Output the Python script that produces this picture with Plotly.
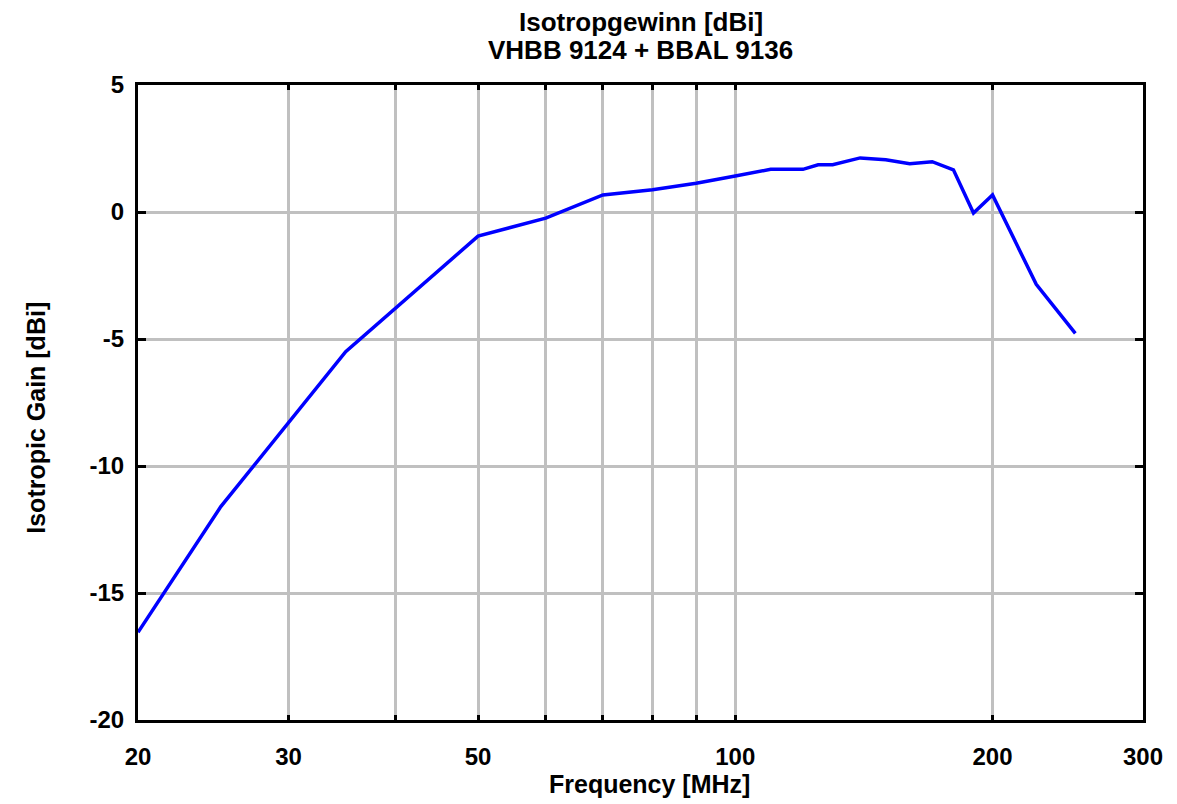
import plotly.graph_objects as go
import numpy as np

freq_mhz = [20, 25, 35, 50, 60, 70, 80, 90, 100, 110, 120, 125, 130, 140, 150,
            160, 170, 180, 190, 200, 225, 250]
gain_dbi = [-16.55, -11.6, -5.5, -0.95, -0.24, 0.67, 0.88, 1.13, 1.42, 1.68, 1.68,
            1.86, 1.86, 2.13, 2.06, 1.9, 1.98, 1.66, -0.04, 0.67, -2.85, -4.78]

x_tick_vals = [20, 30, 50, 100, 200, 300]
x_tick_text = ["20", "30", "50", "100", "200", "300"]
x_minor_vals = [40, 60, 70, 80, 90]
y_tick_vals = [5, 0, -5, -10, -15, -20]

title_line1 = "Isotropgewinn [dBi]"
title_line2 = "VHBB 9124 + BBAL 9136"
x_title = "Frequency [MHz]"
y_title = "Isotropic Gain [dBi]"

FONT = "Liberation Sans, Arial, sans-serif"
GRID = "#c0c0c0"

fig = go.Figure()
fig.add_trace(go.Scatter(x=freq_mhz, y=gain_dbi, mode="lines",
                         line=dict(color="#0000ff", width=3.5),
                         showlegend=False, hoverinfo="x+y"))

fig.update_layout(
    width=1169, height=796,
    paper_bgcolor="white", plot_bgcolor="white",
    margin=dict(l=130, r=34, t=77, b=84),
    font=dict(family=FONT, size=24, color="black"),
    annotations=[
        dict(text="<b>%s</b>" % title_line1, xref="paper", yref="paper",
             x=0.5, y=1.0992, xanchor="center", yanchor="middle", showarrow=False,
             font=dict(family=FONT, size=26, color="black")),
        dict(text="<b>%s</b>" % title_line2, xref="paper", yref="paper",
             x=0.5, y=1.0551, xanchor="center", yanchor="middle", showarrow=False,
             font=dict(family=FONT, size=26, color="black")),
        dict(text="<b>%s</b>" % y_title, xref="paper", yref="paper",
             x=-0.1015, y=0.476, xanchor="center", yanchor="middle", showarrow=False,
             textangle=-90, font=dict(family=FONT, size=25, color="black")),
        dict(text="<b>%s</b>" % x_title, xref="paper", yref="paper",
             x=0.5085, y=-0.1005, xanchor="center", yanchor="middle", showarrow=False,
             font=dict(family=FONT, size=25, color="black")),
    ],
)

fig.update_xaxes(
    type="log", range=[np.log10(20), np.log10(300)],
    tickvals=x_tick_vals, ticktext=["<b>%s</b>" % t for t in x_tick_text],
    showgrid=True, gridcolor=GRID, gridwidth=3,
    showline=True, linecolor="black", linewidth=3, mirror="ticks",
    ticks="inside", ticklen=5, tickwidth=3, tickcolor="black",
    tickfont=dict(family=FONT, size=24), ticklabelstandoff=13,
    minor=dict(tickvals=x_minor_vals, showgrid=True, gridcolor=GRID, gridwidth=3,
               ticks="inside", ticklen=5, tickwidth=3, tickcolor="black"),
    automargin=False, zeroline=False,
)

fig.update_yaxes(
    range=[-20, 5], tickvals=y_tick_vals,
    ticktext=["<b>%d</b>" % v for v in y_tick_vals],
    showgrid=True, gridcolor=GRID, gridwidth=3,
    showline=True, linecolor="black", linewidth=3, mirror="ticks",
    ticks="inside", ticklen=8, tickwidth=3, tickcolor="black",
    tickfont=dict(family=FONT, size=24), ticklabelstandoff=6,
    automargin=False, zeroline=False,
)

fig.write_html("out.html")
